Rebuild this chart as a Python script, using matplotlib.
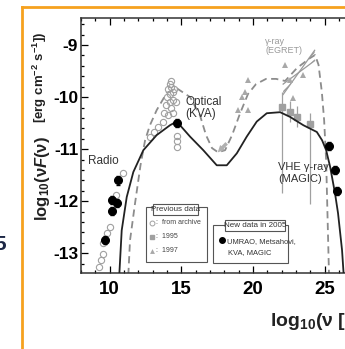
import matplotlib
matplotlib.use('Agg')
import matplotlib.pyplot as plt
from matplotlib.patches import Rectangle

plt.rcParams['font.family'] = ['Liberation Sans', 'DejaVu Sans']
plt.rcParams['axes.unicode_minus'] = False
plt.rcParams['mathtext.fontset'] = 'custom'
plt.rcParams['mathtext.default'] = 'bf'
plt.rcParams['mathtext.bf'] = 'Liberation Sans:bold'
plt.rcParams['mathtext.it'] = 'Liberation Sans:italic:bold'
plt.rcParams['mathtext.rm'] = 'Liberation Sans:bold'

# new model 2005 (solid line)
new_x = [10.67, 10.84, 11.19, 11.65, 12.35, 13.28, 14.21, 14.68, 15.61, 16.53, 17.47, 18.17,
         18.87, 19.56, 20.26, 20.96, 21.89, 22.58, 23.51, 24.45, 24.82, 25.10, 25.38, 25.72,
         25.93, 26.21, 26.35]
new_y = [-13.42, -12.56, -11.92, -11.44, -11.02, -10.73, -10.54, -10.47, -10.76, -11.02, -11.31, -11.31,
         -11.08, -10.76, -10.47, -10.31, -10.29, -10.38, -10.54, -10.67, -10.83, -11.02, -11.34, -11.85,
         -12.23, -12.94, -13.52]

# previous model (dashed line)
prev_x = [11.30, 11.42, 11.77, 12.15, 12.47, 12.81, 13.28, 13.98, 14.68, 15.61, 16.30, 16.72, 17.14,
          17.56, 18.05, 18.54, 19.10, 19.65, 20.21, 20.91, 21.61, 22.24, 23.07, 23.98, 24.33, 24.57,
          24.80, 24.96, 25.10, 25.17, 25.24, 25.31]
prev_y = [-13.42, -12.75, -12.04, -11.31, -10.83, -10.54, -10.25, -9.92, -9.83, -10.0, -10.35, -10.73, -10.98,
          -11.06, -11.02, -10.73, -10.31, -9.94, -9.75, -9.65, -9.65, -9.69, -9.44, -9.25, -9.19, -9.38,
          -9.90, -10.44, -11.21, -11.98, -12.75, -13.52]

# archive data (open circles)
arch_x = [10.91, 10.44, 10.02, 9.79, 9.56, 9.51, 9.37, 9.28,
          12.8, 13.1, 13.4, 13.7, 13.8, 13.9, 14.0, 14.1, 14.2, 14.3, 14.4, 14.2, 14.3, 14.4,
          14.1, 14.3, 14.5, 14.2, 14.4, 14.6, 14.7, 14.7, 14.7]
arch_y = [-11.46, -11.88, -12.49, -12.62, -12.81, -13.01, -13.13, -13.26,
          -10.77, -10.68, -10.58, -10.47, -10.3, -10.15, -10.0, -9.85, -9.75, -9.8, -9.9, -10.1, -10.2, -10.05,
          -10.35, -9.7, -9.85, -9.95, -10.3, -10.1, -10.75, -10.85, -10.96]

# 1995 data (squares with error bars)
sq_x = [22.0, 22.58, 23.05, 24.0]
sq_y = [-10.19, -10.28, -10.38, -10.51]
sq_lo = [1.66, 0.2, 0.2, 1.55]
sq_hi = [0.29, 0.2, 0.2, 0.2]

# 1997 data (triangles)
tri_x = [18.96, 19.65, 19.24, 19.65, 22.24, 22.58, 22.79, 23.49, 19.45]
tri_y = [-10.25, -10.25, -10.0, -9.67, -9.38, -9.67, -10.02, -9.58, -9.9]

# EGRET bowtie
egret_x = [22.1, 24.3]
egret_lo = [-9.75, -9.3]
egret_hi = [-9.95, -9.1]

# new data 2005 (filled circles)
new_dx = [10.60, 10.18, 10.49, 10.18, 9.67, 14.70, 25.33, 25.72, 25.84]
new_dy = [-11.60, -11.98, -12.03, -12.19, -12.75, -10.50, -10.94, -11.40, -11.80]

orange = '#f6a11e'
gray = '#9a9a9a'

fig = plt.figure(figsize=(3.45, 3.49), dpi=100)
ax = fig.add_axes([81 / 345, 76 / 349, 286.7 / 345, 255 / 349])
ax.set_xlim(8, 28)
ax.set_ylim(-13.38, -8.48)

ax.plot(prev_x, prev_y, ls=(0, (4, 2.5)), color='#8c8c8c', lw=1.3, zorder=2)
ax.plot(new_x, new_y, color='#222222', lw=1.3, zorder=3)

ax.plot(egret_x, egret_lo, color=gray, lw=0.9)
ax.plot(egret_x, egret_hi, color=gray, lw=0.9)
ax.fill_between(egret_x, egret_lo, egret_hi, facecolor='none', edgecolor=gray, hatch='////', lw=0)

ax.plot(arch_x, arch_y, 'o', mfc='none', mec='#a0a0a0', ms=4.5, mew=0.8, zorder=2)
ax.errorbar(sq_x, sq_y, yerr=[sq_lo, sq_hi], fmt='s', color='#a0a0a0', ms=4, elinewidth=0.9, capsize=0, zorder=2)
ax.plot(tri_x, tri_y, '^', color='#a8a8a8', ms=4.5, mew=0, zorder=2)
ax.errorbar(new_dx, new_dy, yerr=0.08, fmt='o', color='black', ms=5.5, capsize=1.5, elinewidth=0.8, zorder=4)

ax.annotate('', xy=(17.4, -11.1), xytext=(18.3, -10.85),
            arrowprops=dict(arrowstyle='simple,head_width=0.5,tail_width=0.25', color='#b0b0b0', lw=0))

ax.text(8.49, -11.23, 'Radio', fontsize=8.5, va='center', color='#333333')
ax.text(15.26, -10.21, 'Optical\n(KVA)', fontsize=8.5, va='center', color='#333333', linespacing=1.05)
ax.text(20.84, -9.02, 'γ-ray\n(EGRET)', fontsize=6.5, va='center', color=gray, linespacing=1.0)
ax.text(21.75, -11.46, 'VHE γ-ray\n(MAGIC)', fontsize=8, va='center', color='#333333', linespacing=1.15)

ax.set_xticks([10, 15, 20, 25])
ax.set_xticklabels(['10', '15', '20', '25'], fontsize=13.5, fontweight='bold')
ax.set_xticks(range(8, 29), minor=True)
ax.set_yticks([-13, -12, -11, -10, -9])
ax.set_yticklabels(['-13', '-12', '-11', '-10', '-9'], fontsize=12.5, fontweight='bold')
ax.set_yticks([-13.2 + 0.2 * i for i in range(24)], minor=True)
ax.tick_params(which='both', direction='in', top=True, right=True, width=0.9)
ax.tick_params(which='major', length=5)
ax.tick_params(which='minor', length=2.5)
ax.tick_params(axis='x', pad=6)
ax.tick_params(axis='y', pad=2)
for s in ax.spines.values():
    s.set_linewidth(1.1)
    s.set_color('#333333')

# overlay in pixel coordinates for frame, labels and legend boxes
ov = fig.add_axes([0, 0, 1, 1], zorder=5)
ov.set_xlim(0, 345)
ov.set_ylim(349, 0)
ov.axis('off')
ov.patch.set_alpha(0)

ov.plot([22, 22], [7, 360], color=orange, lw=2, clip_on=False)
ov.plot([22, 360], [7, 7], color=orange, lw=2, clip_on=False)
ov.text(-6, 245, '5', fontsize=15, fontweight='bold', color='#1c2745', va='center', ha='left')

ov.text(43, 221, 'log$_{10}$(ν$\\mathit{F}$(ν)', rotation=90, ha='center', va='bottom',
        fontsize=12, fontweight='bold', color='#222222')
ov.text(40, 123, '[erg cm$^{-2}$ s$^{-1}$])', rotation=90, ha='center', va='bottom',
        fontsize=9.5, fontweight='bold', color='#222222')
ov.text(270, 321, 'log$_{10}$(ν [Hz])', ha='left', va='center', fontsize=14, fontweight='bold', color='#222222')

# legend box: previous data
ov.add_patch(Rectangle((145.7, 206.7), 61.3, 55, fc='white', ec='#555555', lw=0.8))
ov.add_patch(Rectangle((152.7, 204), 45.6, 11, fc='white', ec='#555555', lw=0.8))
ov.text(175.5, 209.5, 'Previous data', fontsize=5.8, ha='center', va='center', color='#333333')
ov.plot(151.7, 223, 'o', mfc='none', mec='#a0a0a0', ms=3.5, mew=0.7)
ov.plot(151.7, 237, 's', color='#a0a0a0', ms=3)
ov.plot(151.7, 251, '^', color='#a8a8a8', ms=3.5, mew=0)
ov.text(156, 223, ':  from archive', fontsize=5, va='center', color='#444444')
ov.text(156, 237, ':  1995', fontsize=5, va='center', color='#444444')
ov.text(156, 251, ':  1997', fontsize=5, va='center', color='#444444')

# legend box: new data
ov.add_patch(Rectangle((213.3, 225), 75, 38.3, fc='white', ec='#555555', lw=0.8))
ov.add_patch(Rectangle((225, 220), 60, 10.7, fc='white', ec='#555555', lw=0.8))
ov.text(255, 225.3, 'New data in 2005', fontsize=5.8, ha='center', va='center', color='#333333')
ov.plot(221.7, 240, 'o', color='black', ms=4)
ov.text(227, 241.5, 'UMRAO, Metsahovi,', fontsize=5.4, va='center', color='#333333')
ov.text(228, 252.7, 'KVA, MAGIC', fontsize=5.4, va='center', color='#333333')

fig.savefig('out.png', dpi=100)
